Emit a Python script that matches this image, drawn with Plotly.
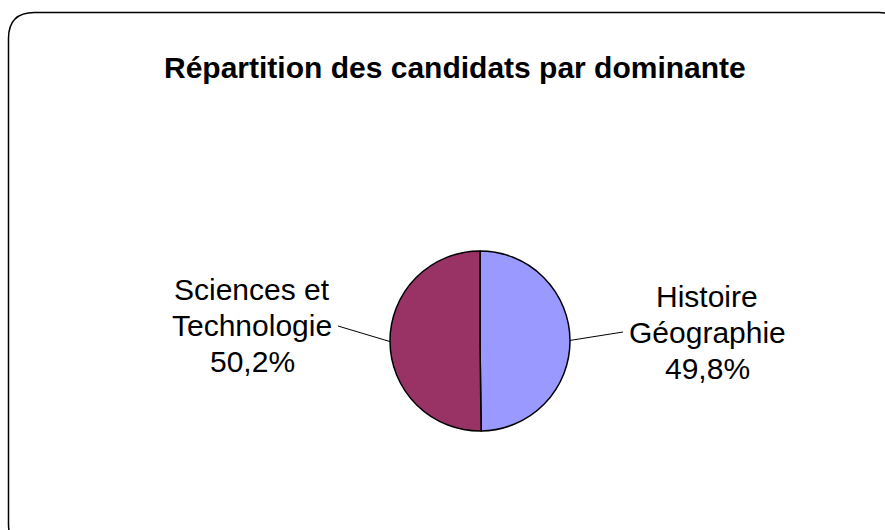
import math
import plotly.graph_objects as go

# ---- data ----
categories = ["Histoire Géographie", "Sciences et Technologie"]
label_lines = [["Histoire", "Géographie"], ["Sciences et", "Technologie"]]
values = [49.8, 50.2]
pct_labels = ["49,8%", "50,2%"]
colors = ["#9999FF", "#993366"]
title_text = "Répartition des candidats par dominante"

W, H = 885, 530
def px(x):
    return x / W
def py(y):
    return 1 - y / H

FONT = "Liberation Sans, Arial, sans-serif"

# pie geometry (pixels)
cx, cy, r = 480, 341, 90

fig = go.Figure()
fig.add_trace(go.Pie(
    labels=categories,
    values=values,
    sort=False,
    direction="clockwise",
    rotation=0,
    marker=dict(colors=colors, line=dict(color="black", width=1.5)),
    textinfo="none",
    hoverinfo="label+percent",
    showlegend=False,
    domain=dict(x=[px(cx - r), px(cx + r)], y=[py(cy + r), py(cy - r)]),
))

# label layout: center x, first baseline y, line step; leader line ends
label_pos = [(707, 307), (252, 300)]
line_step = 36
leader_end = [(623, 332), (338, 326)]
fs = 30

total = sum(values)
start = 0.0
shapes = []
annotations = []
for i, v in enumerate(values):
    mid = start + v / total * 180.0
    start += v / total * 360.0
    ang = math.radians(mid)
    ex = cx + r * math.sin(ang)
    ey = cy - r * math.cos(ang)
    lx, ly = leader_end[i]
    shapes.append(dict(type="line", xref="paper", yref="paper",
                       x0=px(ex), y0=py(ey), x1=px(lx), y1=py(ly),
                       line=dict(color="black", width=1)))
    tx, ty = label_pos[i]
    lines = label_lines[i] + [pct_labels[i]]
    for k, t in enumerate(lines):
        base = ty + k * line_step
        annotations.append(dict(
            x=px(tx), y=py(base - 0.35 * fs), xref="paper", yref="paper",
            text=t, showarrow=False, xanchor="center", yanchor="middle",
            font=dict(family=FONT, size=fs, color="black"),
        ))

annotations.append(dict(
    x=px(455), y=py(78 - 0.35 * 30), xref="paper", yref="paper",
    text="<b>" + title_text + "</b>", showarrow=False,
    xanchor="center", yanchor="middle",
    font=dict(family=FONT, size=30, color="black"),
))

# rounded border
x0, y0, x1, y1, rr = 8.5, 12.5, 905, 550, 26
path = (f"M {px(x0)},{py(y0 + rr)} "
        f"Q {px(x0)},{py(y0)} {px(x0 + rr)},{py(y0)} "
        f"L {px(x1 - rr)},{py(y0)} "
        f"Q {px(x1)},{py(y0)} {px(x1)},{py(y0 + rr)} "
        f"L {px(x1)},{py(y1 - rr)} "
        f"Q {px(x1)},{py(y1)} {px(x1 - rr)},{py(y1)} "
        f"L {px(x0 + rr)},{py(y1)} "
        f"Q {px(x0)},{py(y1)} {px(x0)},{py(y1 - rr)} Z")
shapes.append(dict(type="path", xref="paper", yref="paper", path=path,
                   line=dict(color="black", width=1.5), layer="below"))

fig.update_layout(
    width=W, height=H,
    margin=dict(l=0, r=0, t=0, b=0),
    paper_bgcolor="white", plot_bgcolor="white",
    shapes=shapes, annotations=annotations,
)
fig.write_html("out.html",
               config={"displayModeBar": False},
               post_script="document.body.style.margin='0';document.body.style.overflow='hidden';")
